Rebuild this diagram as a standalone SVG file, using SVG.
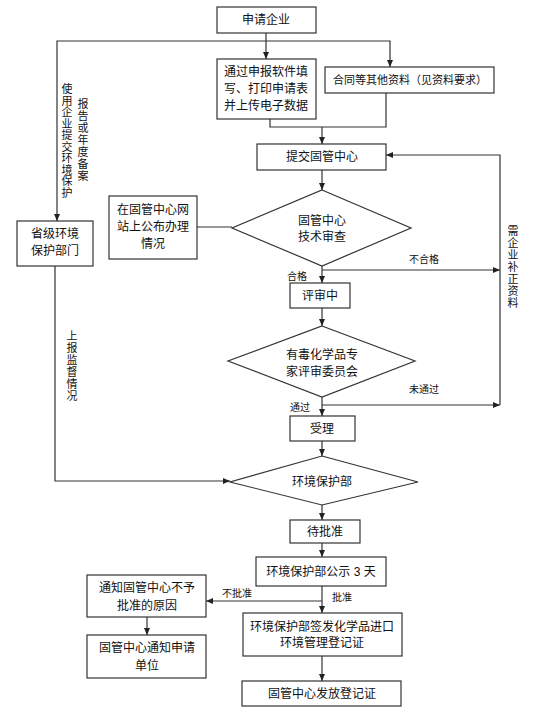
<svg xmlns="http://www.w3.org/2000/svg" width="554" height="724" viewBox="0 0 554 724">
<defs>
<marker id="ar" markerUnits="userSpaceOnUse" markerWidth="8" markerHeight="8" refX="7" refY="4" orient="auto">
<path d="M0,1 L7,4 L0,7 Z" fill="#222"/>
</marker>
<style>
.b{fill:#fff;stroke:#333;stroke-width:1.2}
.t{font-family:"Liberation Sans","Noto Sans CJK SC",sans-serif;font-size:12px;fill:#111;text-anchor:middle;dominant-baseline:central}
.s{font-size:10px}
.v{font-size:11px}
.c{fill:none;stroke:#333;stroke-width:1.2}
.a{marker-end:url(#ar)}
</style>
</defs>
<rect width="554" height="724" fill="#fff"/>
<g id="connectors">
<path class="c a" d="M266,33 V59"/>
<path class="c a" d="M266,41 H390 V67"/>
<path class="c a" d="M266,41 H57 V221"/>
<path class="c" d="M270,119 V127 H386 V93"/>
<path class="c a" d="M322,127 V144"/>
<path class="c a" d="M322,170 V190"/>
<path class="c" d="M197,227 H232"/>
<path class="c a" d="M322,266 V283"/>
<path class="c a" d="M322,270 H500"/>
<path class="c a" d="M500,405 V155 H386"/>
<path class="c a" d="M322,308 V326"/>
<path class="c a" d="M322,397 V416"/>
<path class="c a" d="M322,405 H500"/>
<path class="c a" d="M322,441 V456"/>
<path class="c a" d="M55,266 V481 H230"/>
<path class="c a" d="M322,505 V520"/>
<path class="c a" d="M322,543 V557"/>
<path class="c a" d="M322,586 V613"/>
<path class="c a" d="M322,601 H206"/>
<path class="c a" d="M147,617 V635"/>
<path class="c a" d="M322,656 V681"/>
<text class="t s" x="424" y="259">不合格</text>
<text class="t s" x="297" y="276">合格</text>
<text class="t s" x="424" y="389">未通过</text>
<text class="t s" x="300" y="407">通过</text>
<text class="t s" x="237" y="593">不批准</text>
<text class="t s" x="342" y="597">批准</text>
<text class="t v"><tspan x="67" y="89">使</tspan><tspan x="67" y="100.5">用</tspan><tspan x="67" y="112">企</tspan><tspan x="67" y="123.5">业</tspan><tspan x="67" y="135">提</tspan><tspan x="67" y="146.5">交</tspan><tspan x="67" y="158">环</tspan><tspan x="67" y="169.5">境</tspan><tspan x="67" y="181">保</tspan><tspan x="67" y="192.5">护</tspan></text>
<text class="t v"><tspan x="83" y="104">报</tspan><tspan x="83" y="116">告</tspan><tspan x="83" y="128">或</tspan><tspan x="83" y="140">年</tspan><tspan x="83" y="152">度</tspan><tspan x="83" y="164">备</tspan><tspan x="83" y="176">案</tspan></text>
<text class="t v"><tspan x="72" y="336">上</tspan><tspan x="72" y="348">报</tspan><tspan x="72" y="360">监</tspan><tspan x="72" y="372">督</tspan><tspan x="72" y="384">情</tspan><tspan x="72" y="396">况</tspan></text>
<text class="t v"><tspan x="513" y="231">需</tspan><tspan x="513" y="243">企</tspan><tspan x="513" y="255">业</tspan><tspan x="513" y="267">补</tspan><tspan x="513" y="279">正</tspan><tspan x="513" y="291">资</tspan><tspan x="513" y="303">料</tspan></text>
</g>
<g id="n1"><rect class="b" x="217" y="7" width="99" height="26"/><text class="t" x="266" y="20">申请企业</text></g>
<g id="n2"><rect class="b" x="217" y="59" width="99" height="60"/><text class="t" x="266" y="72">通过申报软件填</text><text class="t" x="266" y="89">写、打印申请表</text><text class="t" x="266" y="106">并上传电子数据</text></g>
<g id="n3"><rect class="b" x="325" y="67" width="169" height="26"/><text class="t" x="410" y="80" style="font-size:11px">合同等其他资料（见资料要求）</text></g>
<g id="n4"><rect class="b" x="257" y="144" width="129" height="26"/><text class="t" x="322" y="157">提交固管中心</text></g>
<g id="n5"><polygon class="b" points="322,190 411,228 322,266 232,228"/><text class="t" x="322" y="221">固管中心</text><text class="t" x="322" y="237">技术审查</text></g>
<g id="n6"><rect class="b" x="109" y="196" width="88" height="63"/><text class="t" x="153" y="210">在固管中心网</text><text class="t" x="153" y="227">站上公布办理</text><text class="t" x="153" y="244">情况</text></g>
<g id="n7"><rect class="b" x="17" y="221" width="76" height="45"/><text class="t" x="55" y="234">省级环境</text><text class="t" x="55" y="251">保护部门</text></g>
<g id="n8"><rect class="b" x="290" y="283" width="60" height="25"/><text class="t" x="320" y="296">评审中</text></g>
<g id="n9"><polygon class="b" points="322,326 415,361 322,397 228,361"/><text class="t" x="322" y="355">有毒化学品专</text><text class="t" x="322" y="372">家评审委员会</text></g>
<g id="n10"><rect class="b" x="290" y="416" width="65" height="25"/><text class="t" x="322" y="429">受理</text></g>
<g id="n11"><polygon class="b" points="322,456 418,482 322,505 230,482"/><text class="t" x="322" y="482">环境保护部</text></g>
<g id="n12"><rect class="b" x="290" y="520" width="70" height="23"/><text class="t" x="325" y="532">待批准</text></g>
<g id="n13"><rect class="b" x="256" y="557" width="130" height="29"/><text class="t" x="321" y="572">环境保护部公示 3 天</text></g>
<g id="n14"><rect class="b" x="87" y="575" width="119" height="42"/><text class="t" x="147" y="588">通知固管中心不予</text><text class="t" x="147" y="606">批准的原因</text></g>
<g id="n15"><rect class="b" x="87" y="635" width="119" height="43"/><text class="t" x="147" y="648">固管中心通知申请</text><text class="t" x="147" y="666">单位</text></g>
<g id="n16"><rect class="b" x="243" y="613" width="159" height="43"/><text class="t" x="322" y="627">环境保护部签发化学品进口</text><text class="t" x="322" y="643">环境管理登记证</text></g>
<g id="n17"><rect class="b" x="242" y="681" width="159" height="25"/><text class="t" x="322" y="694">固管中心发放登记证</text></g>
</svg>
